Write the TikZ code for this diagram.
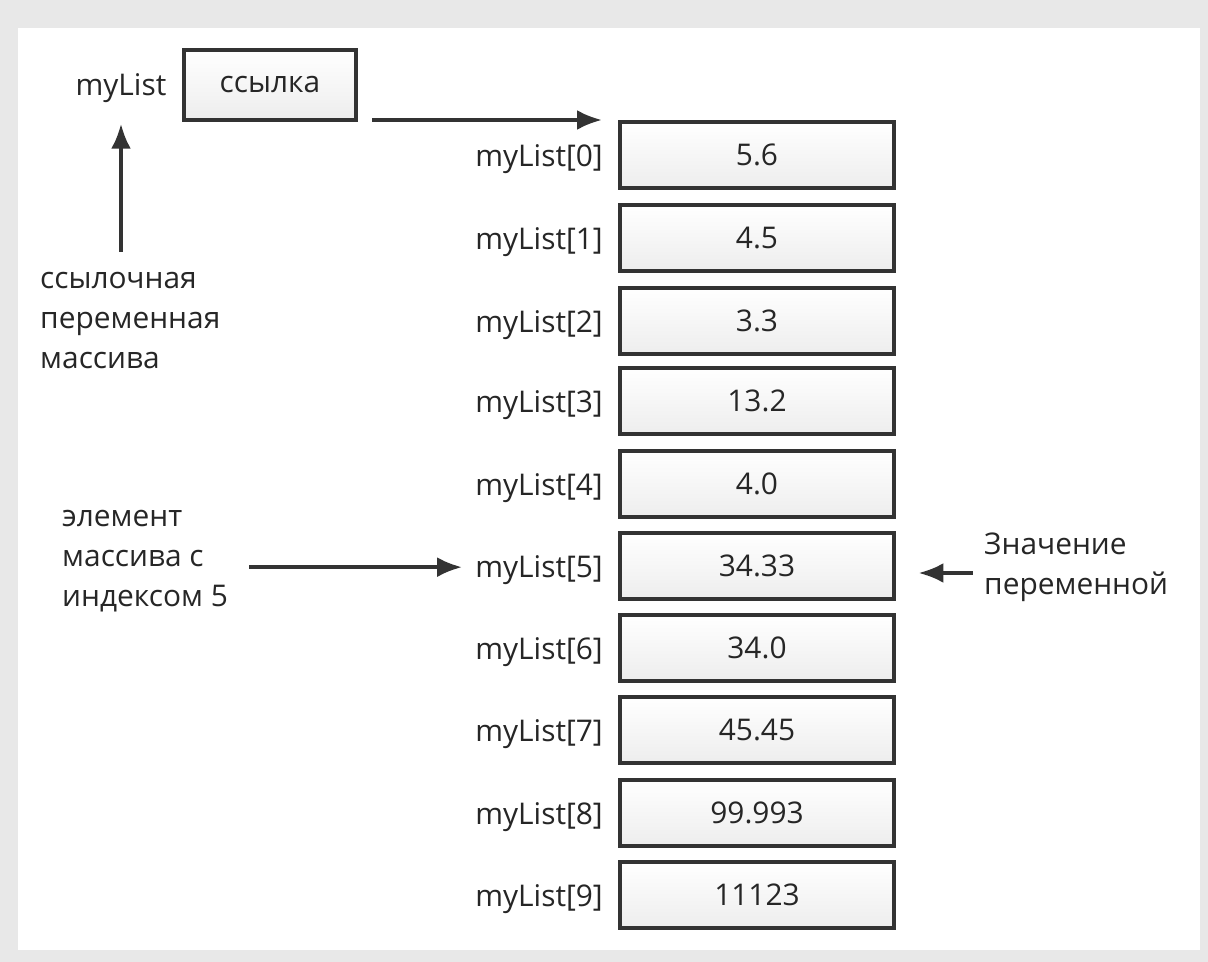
\documentclass[tikz,border=0pt]{standalone}
\usepackage{fontspec}
\setmainfont{Open Sans}
\usetikzlibrary{arrows.meta,positioning}
\begin{document}
\begin{tikzpicture}[x=0.02cm,y=-0.02cm,font=\fontsize{17pt}{22.8pt}\selectfont,
    cell/.style={draw=black!80,line width=2.3pt,top color=white,bottom color=gray!14,minimum width=5.5cm,minimum height=1.32cm,inner sep=0pt,text=black!85},
    idx/.style={anchor=east,text=black!85},
    note/.style={align=left,text=black!85},
    arr/.style={-{Latex[length=5mm,width=4mm]},line width=2.2pt,draw=black!80}]
    \useasboundingbox (0,0) rectangle (1208,962);
    \fill[gray!18] (0,0) rectangle (1208,962);
    \fill[white] (18,28) rectangle (1200,950);
    % reference variable
    \node [cell,minimum width=3.44cm,minimum height=1.4cm] (ref) at (270,85) {ссылка};
    \node [text=black!85] (lst) at (121,88) {myList};
    \node [note,anchor=north west] (refnote) at (34,266) {ссылочная\\переменная\\массива};
    % array cells
    \foreach \i/\v/\y in {0/5.6/155,1/4.5/238,2/3.3/321,3/13.2/401,4/4.0/484,5/34.33/566,6/34.0/648,7/45.45/730,8/99.993/813,9/11123/895}{
        \node [cell] (a\i) at (757,\y) {\v};
        \node [idx] (l\i) at (609,\y+4) {myList[\i]};
    }
    \node [note,anchor=north west] (elnote) at (56,504) {элемент\\массива с\\индексом 5};
    \node [note,anchor=west] (valnote) at (978,567) {Значение\\переменной};
    % arrows
    \coordinate (refout) at (372,120);
    \coordinate (cellin) at (602,120);
    \draw [arr] (refout) -- (cellin);
    \draw [arr] (refnote.north -| lst) ++(0,-14) -- ([yshift=-0.3cm]lst.south);
    \draw [arr,shorten <=0.3cm,shorten >=4pt] ([yshift=-0.12cm]elnote.east) -- ([yshift=-0.12cm]elnote.east -| l5.west);
    \draw [arr,shorten <=3pt,shorten >=0.44cm] ([yshift=-0.12cm]valnote.west) -- ([yshift=-0.12cm]valnote.west -| a5.east);
\end{tikzpicture}
\end{document}
